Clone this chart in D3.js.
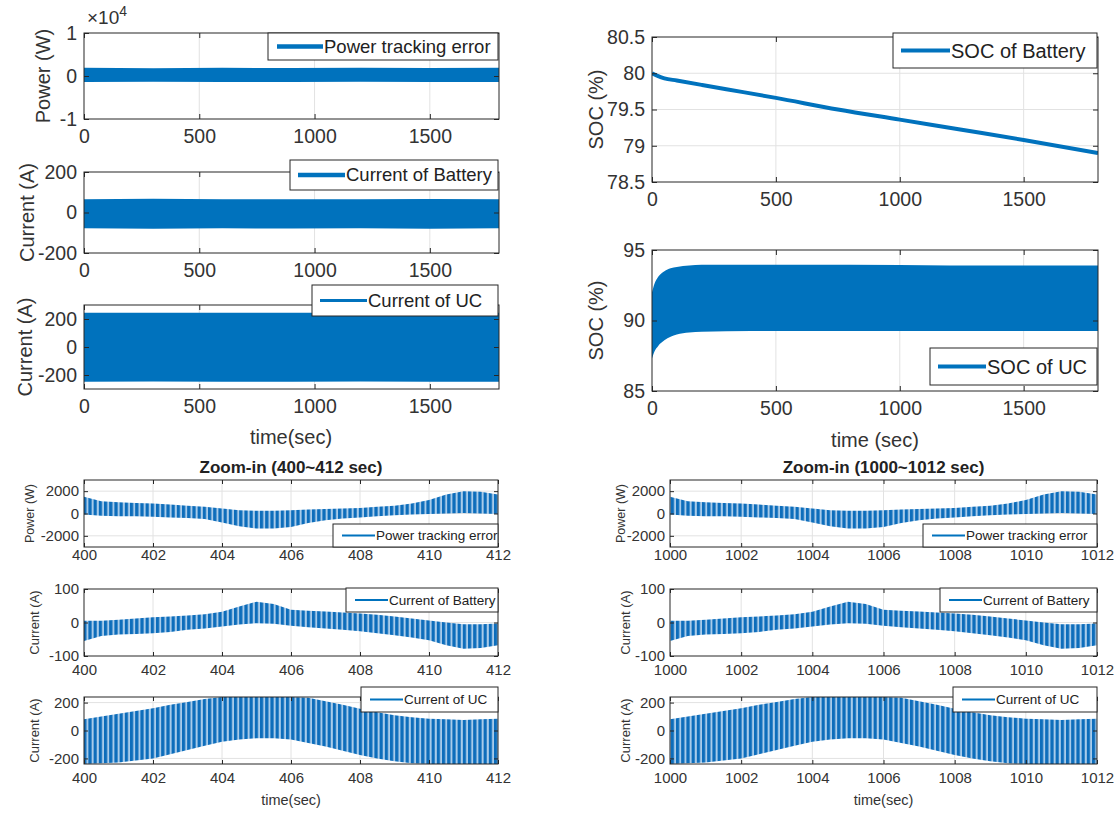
<!DOCTYPE html>
<html>
<head>
<meta charset="utf-8">
<script src="https://cdn.jsdelivr.net/npm/d3@7"></script>
<style>
  body { margin: 0; background: #fff; }
</style>
</head>
<body>
<svg id="fig" width="1118" height="814"></svg>
<script>
// ---- data ----
// overview runs, 0..1800 s (envelope of the dense oscillation)
const overviewTime = [0, 300, 600, 900, 1200, 1500, 1800]
const powerErrUpper = [1900, 1800, 1900, 1850, 1900, 1850, 1900]
const powerErrLower = [-1400, -1350, -1400, -1400, -1350, -1400, -1400]
const battCurUpper = [66, 68, 65, 66, 65, 67, 65]
const battCurLower = [-78, -80, -78, -79, -78, -80, -78]
const ucCurUpper = [245, 245, 244, 245, 244, 245, 245]
const ucCurLower = [-248, -247, -248, -248, -247, -248, -248]

// battery SOC
const socBattTime = [0, 25, 50, 100, 200, 300, 500, 750, 1000, 1250, 1500, 1800]
const socBatt = [80.0, 79.96, 79.93, 79.9, 79.84, 79.78, 79.66, 79.5, 79.36, 79.22, 79.08, 78.9]

// UC SOC envelope
const socUcTime = [0, 10, 25, 50, 75, 100, 150, 200, 400, 800, 1200, 1600, 1800]
const socUcUpper = [92.0, 92.6, 93.1, 93.5, 93.7, 93.8, 93.9, 93.95, 93.95, 93.95, 93.9, 93.9, 93.9]
const socUcLower = [87.3, 87.8, 88.2, 88.6, 88.85, 89.0, 89.15, 89.2, 89.25, 89.25, 89.25, 89.25, 89.25]

// zoom-in windows (offset in seconds from window start), envelopes
const zoomOffset = [0, 0.5, 1, 1.5, 2, 2.5, 3, 3.5, 4, 4.5, 5, 5.5, 6, 6.5, 7, 7.5, 8, 8.5, 9, 9.5, 10, 10.5, 11, 11.5, 12]
const powerZoomUpper = [1500, 1100, 1000, 950, 900, 800, 700, 600, 450, 300, 250, 250, 300, 350, 400, 450, 500, 600, 700, 900, 1200, 1700, 2000, 1950, 1700]
const powerZoomLower = [-100, -200, -250, -250, -300, -350, -400, -500, -800, -1150, -1350, -1350, -1200, -850, -600, -450, -350, -250, -150, -100, -50, 0, 50, 0, -50]
const battZoomUpper = [5, 5, 8, 12, 16, 18, 21, 25, 32, 48, 62, 55, 38, 35, 33, 30, 27, 23, 18, 12, 6, 0, -5, -5, -3]
const battZoomLower = [-55, -40, -36, -34, -32, -28, -22, -18, -12, -6, -2, -4, -10, -14, -18, -22, -26, -32, -38, -45, -53, -68, -78, -76, -68]
const ucZoomUpper = [80, 100, 120, 140, 160, 185, 205, 225, 240, 240, 240, 240, 240, 235, 210, 185, 155, 130, 110, 95, 85, 80, 75, 80, 85]
const ucZoomLower = [-240, -235, -230, -215, -200, -170, -140, -110, -80, -65, -55, -55, -65, -90, -115, -145, -175, -200, -220, -235, -240, -240, -240, -240, -240]

const zoomStarts = [400, 1000]
const overviewTicks = [0, 500, 1000, 1500]

const BLUE = '#0072BD'
const FONT = '"Liberation Sans", Arial, Helvetica, sans-serif'
const INK = '#333'

const svg = d3.select('#fig')
const defs = svg.append('defs')

// striped fill for the zoomed oscillation bands
const pat = defs.append('pattern').attr('id', 'stripes')
  .attr('patternUnits', 'userSpaceOnUse').attr('width', 5.2).attr('height', 10)
pat.append('rect').attr('width', 5.2).attr('height', 10).attr('fill', '#a8cbea')
pat.append('rect').attr('width', 3.2).attr('height', 10).attr('fill', '#0d6dbb')

let clipCount = 0

function panel(o, drawData) {
  const x = d3.scaleLinear().domain(o.xDomain).range([o.x0, o.x1])
  const y = d3.scaleLinear().domain(o.yDomain).range([o.y1, o.y0])
  const g = svg.append('g')
  const id = 'clip' + (clipCount++)
  defs.append('clipPath').attr('id', id).append('rect')
    .attr('x', o.x0).attr('y', o.y0).attr('width', o.x1 - o.x0).attr('height', o.y1 - o.y0)

  // grid
  const gx = o.xTicks.filter(d => d > o.xDomain[0] && d < o.xDomain[1])
  const gy = o.yTicks.filter(d => d > o.yDomain[0] && d < o.yDomain[1])
  g.append('g').selectAll('line').data(gx).join('line')
    .attr('x1', d => x(d)).attr('x2', d => x(d)).attr('y1', o.y0).attr('y2', o.y1)
    .attr('stroke', '#e2e2e2')
  g.append('g').selectAll('line').data(gy).join('line')
    .attr('y1', d => y(d)).attr('y2', d => y(d)).attr('x1', o.x0).attr('x2', o.x1)
    .attr('stroke', '#e2e2e2')

  const plot = g.append('g').attr('clip-path', `url(#${id})`)
  drawData(plot, x, y)

  const fmtX = o.xFmt || (d => String(d))
  const fmtY = o.yFmt || (d => String(d))
  const styleAxis = (ax) => {
    ax.select('.domain').remove()
    ax.selectAll('line').attr('stroke', '#262626')
    ax.selectAll('text').attr('fill', INK)
      .style('font-family', FONT).style('font-size', o.fs + 'px')
  }
  g.append('g').attr('transform', `translate(0,${o.y1})`)
    .call(d3.axisBottom(x).tickValues(o.xTicks).tickSize(-o.tick).tickPadding(o.xPad).tickFormat(fmtX))
    .call(styleAxis)
  g.append('g').attr('transform', `translate(0,${o.y0})`)
    .call(d3.axisTop(x).tickValues(o.xTicks).tickSize(-o.tick).tickFormat(''))
    .call(styleAxis)
  g.append('g').attr('transform', `translate(${o.x0},0)`)
    .call(d3.axisLeft(y).tickValues(o.yTicks).tickSize(-o.tick).tickPadding(o.yPad).tickFormat(fmtY))
    .call(styleAxis)
  g.append('g').attr('transform', `translate(${o.x1},0)`)
    .call(d3.axisRight(y).tickValues(o.yTicks).tickSize(-o.tick).tickFormat(''))
    .call(styleAxis)

  g.append('rect').attr('x', o.x0).attr('y', o.y0)
    .attr('width', o.x1 - o.x0).attr('height', o.y1 - o.y0)
    .attr('fill', 'none').attr('stroke', '#262626').attr('stroke-width', 1)

  // y label
  g.append('text')
    .attr('transform', `translate(${o.ylx},${(o.y0 + o.y1) / 2}) rotate(-90)`)
    .attr('text-anchor', 'middle').attr('dy', '0.35em')
    .attr('fill', INK).style('font-family', FONT).style('font-size', o.ylfs + 'px')
    .text(o.ylabel)
  return { x, y }
}

function legend(o) {
  const g = svg.append('g')
  g.append('rect').attr('x', o.x0).attr('y', o.y0)
    .attr('width', o.x1 - o.x0).attr('height', o.y1 - o.y0)
    .attr('fill', '#fff').attr('stroke', '#262626').attr('stroke-width', 1)
  const cy = (o.y0 + o.y1) / 2
  g.append('line').attr('x1', o.x0 + o.l0).attr('x2', o.x0 + o.l1).attr('y1', cy).attr('y2', cy)
    .attr('stroke', BLUE).attr('stroke-width', o.lw)
  g.append('text').attr('x', o.x0 + o.l1 + 1).attr('y', cy).attr('dy', '0.35em')
    .attr('fill', '#222').style('font-family', FONT).style('font-size', o.fs + 'px')
    .text(o.label)
}

function bandPath(plot, x, y, t, up, lo, fill) {
  plot.append('path')
    .datum(d3.zip(t, up, lo))
    .attr('d', d3.area().x(d => x(d[0])).y0(d => y(d[2])).y1(d => y(d[1])))
    .attr('fill', fill)
}

function label(txt, cx, cy, fs, weight) {
  svg.append('text').attr('x', cx).attr('y', cy).attr('dy', '0.35em')
    .attr('text-anchor', 'middle').attr('fill', weight ? '#222' : INK)
    .style('font-family', FONT).style('font-size', fs + 'px')
    .style('font-weight', weight || 'normal')
    .text(txt)
}

// ---------- top left: overview ----------
const ovL = { x0: 84, x1: 499, xDomain: [0, 1800], xTicks: overviewTicks, fs: 19.5, tick: 5, xPad: 10, yPad: 7, ylfs: 20 }

panel({ ...ovL, y0: 33, y1: 119, yDomain: [-10000, 10000], yTicks: [-10000, 0, 10000],
  yFmt: d => String(d / 10000), ylabel: 'Power (W)', ylx: 43 },
  (p, x, y) => bandPath(p, x, y, overviewTime, powerErrUpper, powerErrLower, BLUE))
const sci = svg.append('text').attr('x', 87).attr('y', 24)
  .attr('fill', INK).style('font-family', FONT).style('font-size', '19px')
sci.append('tspan').text('×10')
sci.append('tspan').attr('dy', -8).style('font-size', '14px').text('4')
legend({ x0: 268, x1: 498, y0: 33, y1: 60, l0: 9, l1: 55, lw: 4.5, fs: 18.5, label: 'Power tracking error' })

panel({ ...ovL, y0: 172, y1: 253, yDomain: [-200, 200], yTicks: [-200, 0, 200],
  ylabel: 'Current (A)', ylx: 27 },
  (p, x, y) => bandPath(p, x, y, overviewTime, battCurUpper, battCurLower, BLUE))
legend({ x0: 290, x1: 498, y0: 160, y1: 190, l0: 8, l1: 55, lw: 4.5, fs: 18.5, label: 'Current of Battery' })

panel({ ...ovL, y0: 305, y1: 389, yDomain: [-300, 300], yTicks: [-200, 0, 200],
  ylabel: 'Current (A)', ylx: 25 },
  (p, x, y) => bandPath(p, x, y, overviewTime, ucCurUpper, ucCurLower, BLUE))
legend({ x0: 312, x1: 498, y0: 285, y1: 316, l0: 8, l1: 55, lw: 3, fs: 18.5, label: 'Current of UC' })
label('time(sec)', 291, 437, 20)

// ---------- top right: SOC ----------
const ovR = { x0: 652, x1: 1098, xDomain: [0, 1800], xTicks: overviewTicks, fs: 19.5, tick: 5, xPad: 10, yPad: 7, ylfs: 20 }

panel({ ...ovR, y0: 37, y1: 182, yDomain: [78.5, 80.5], yTicks: [78.5, 79, 79.5, 80, 80.5],
  ylabel: 'SOC (%)', ylx: 596 },
  (p, x, y) => p.append('path').datum(d3.zip(socBattTime, socBatt))
    .attr('d', d3.line().x(d => x(d[0])).y(d => y(d[1])).curve(d3.curveMonotoneX))
    .attr('fill', 'none').attr('stroke', BLUE).attr('stroke-width', 4))
legend({ x0: 893, x1: 1097, y0: 33, y1: 68, l0: 8, l1: 57, lw: 4, fs: 20, label: 'SOC of Battery' })

panel({ ...ovR, y0: 250, y1: 391, yDomain: [85, 95], yTicks: [85, 90, 95],
  ylabel: 'SOC (%)', ylx: 596 },
  (p, x, y) => p.append('path').datum(d3.zip(socUcTime, socUcUpper, socUcLower))
    .attr('d', d3.area().x(d => x(d[0])).y0(d => y(d[2])).y1(d => y(d[1])).curve(d3.curveMonotoneX))
    .attr('fill', BLUE))
legend({ x0: 930, x1: 1097, y0: 348, y1: 385, l0: 8, l1: 56, lw: 4, fs: 20, label: 'SOC of UC' })
label('time (sec)', 875, 440, 20)

// ---------- bottom: zoom-in windows ----------
const zoomCols = [
  { x0: 84, x1: 498, ylx: 30 },
  { x0: 670, x1: 1097, ylx: 621 }
]
zoomCols.forEach((c, i) => {
  const t0 = zoomStarts[i]
  const t = zoomOffset.map(d => t0 + d)
  const ticks = [0, 2, 4, 6, 8, 10, 12].map(d => t0 + d)
  const base = { x0: c.x0, x1: c.x1, xDomain: [t0, t0 + 12], xTicks: ticks, fs: 15, tick: 4, yPad: 5, ylfs: 13 }

  label(`Zoom-in (${t0}~${t0 + 12} sec)`, (c.x0 + c.x1) / 2, 467, 17, 'bold')

  panel({ ...base, y0: 480, y1: 547, xPad: 2, yDomain: [-3000, 3000], yTicks: [-2000, 0, 2000],
    ylabel: 'Power (W)', ylx: c.ylx, ylfs: 12.5 },
    (p, x, y) => bandPath(p, x, y, t, powerZoomUpper, powerZoomLower, 'url(#stripes)'))
  legend({ x0: c.x1 - 165 - (i ? 9 : 0), x1: c.x1, y0: 524, y1: 547, l0: 9, l1: 42, lw: 2, fs: 13.5, label: 'Power tracking error' })

  panel({ ...base, y0: 589, y1: 656, xPad: 8, yDomain: [-100, 100], yTicks: [-100, 0, 100],
    ylabel: 'Current (A)', ylx: c.ylx + 4 },
    (p, x, y) => bandPath(p, x, y, t, battZoomUpper, battZoomLower, 'url(#stripes)'))
  legend({ x0: c.x1 - 152 - (i ? 5 : 0), x1: c.x1, y0: 588, y1: 612, l0: 9, l1: 42, lw: 2, fs: 13.5, label: 'Current of Battery' })

  panel({ ...base, y0: 697, y1: 764, xPad: 8, yDomain: [-240, 240], yTicks: [-200, 0, 200],
    ylabel: 'Current (A)', ylx: c.ylx + 4 },
    (p, x, y) => bandPath(p, x, y, t, ucZoomUpper, ucZoomLower, 'url(#stripes)'))
  legend({ x0: c.x1 - 137 - (i ? 7 : 0), x1: c.x1, y0: 687, y1: 712, l0: 9, l1: 42, lw: 2, fs: 13.5, label: 'Current of UC' })

  label('time(sec)', (c.x0 + c.x1) / 2, 800, 14.5)
})
</script>
</body>
</html>
